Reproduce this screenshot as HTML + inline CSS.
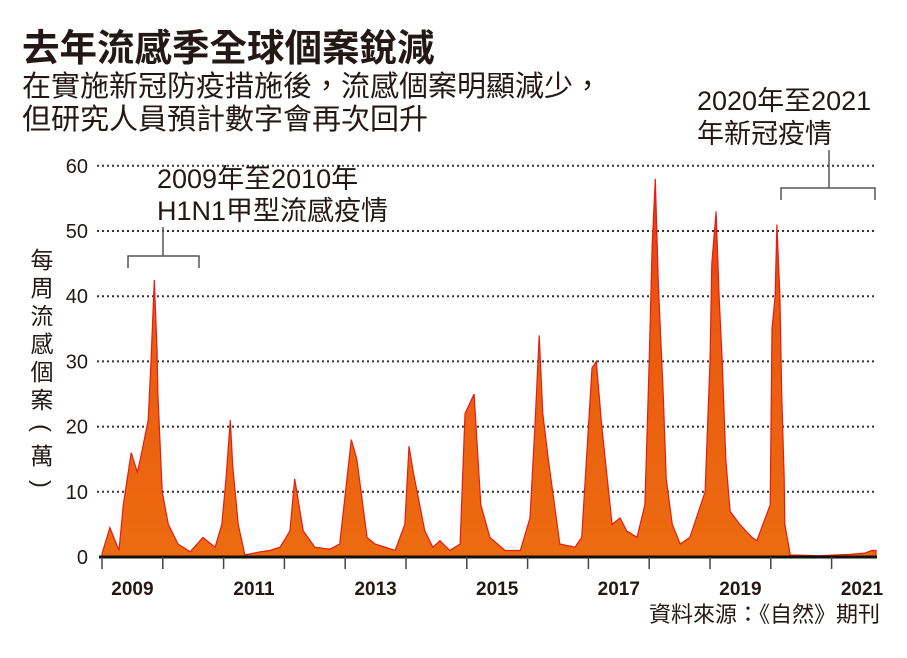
<!DOCTYPE html>
<html><head><meta charset="utf-8"><style>
body{margin:0;background:#fff;}
svg text{font-family:"Liberation Sans","Noto Sans CJK TC",sans-serif;}
</style></head><body>
<svg width="907" height="653" viewBox="0 0 907 653" xmlns="http://www.w3.org/2000/svg">
<defs>
<linearGradient id="fillg" x1="0" y1="0" x2="0" y2="1">
<stop offset="0" stop-color="#e8300f"/><stop offset="0.35" stop-color="#ea5a10"/><stop offset="1" stop-color="#ec6b10"/>
</linearGradient>
</defs>
<text x="22" y="61" font-size="37.5" font-weight="bold" fill="#231815">去年流感季全球個案銳減</text>
<text x="22" y="96" font-size="29" fill="#231815">在實施新冠防疫措施後，流感個案明顯減少，</text>
<text x="22" y="129" font-size="29" fill="#231815">但研究人員預計數字會再次回升</text>
<g id="grid"></g>
<g id="yticks"></g>
<path id="area" fill="url(#fillg)" stroke="#e51d12" stroke-width="1.2"/>
<g id="xaxis"></g>
<g font-size="23" fill="#231815" text-anchor="middle">
<text x="42" y="268">每</text><text x="42" y="296">周</text><text x="42" y="324">流</text><text x="42" y="352">感</text><text x="42" y="380">個</text><text x="42" y="408">案</text><text x="42" y="436" transform="rotate(90 42 428)">(</text><text x="42" y="464">萬</text><text x="42" y="492" transform="rotate(90 42 484)">)</text>
</g>
<g>
<text x="157" y="188" font-size="27" fill="#231815">2009年至2010年</text>
<text x="157" y="220" font-size="27" fill="#231815">H1N1甲型流感疫情</text>
<path d="M163 227 V256 M128 268 V256 H199 V268" fill="none" stroke="#555" stroke-width="1.5"/>
</g>
<g>
<text x="697" y="110" font-size="27" fill="#231815">2020年至2021</text>
<text x="697" y="143" font-size="27" fill="#231815">年新冠疫情</text>
<path d="M829 150 V188 M781 200 V188 H875 V200" fill="none" stroke="#555" stroke-width="1.5"/>
</g>
<text x="880" y="622" font-size="22" fill="#231815" text-anchor="end">資料來源：《自然》期刊</text>
</svg>
<script>
const yTicks=[0,10,20,30,40,50,60];
const yearTicks=[2009,2010,2011,2012,2013,2014,2015,2016,2017,2018,2019,2020,2021];
const yearLabels=["2009","2011","2013","2015","2017","2019","2021"];
const dates=[2009.00,2009.13,2009.28,2009.35,2009.48,2009.58,2009.63,2009.76,2009.806,2009.86,2009.905,2009.92,2009.99,
2010.09,2010.25,2010.45,2010.66,2010.86,2010.97,2011.04,2011.11,2011.15,2011.24,2011.35,2011.60,2011.76,2011.93,
2012.09,2012.17,2012.31,2012.50,2012.75,2012.91,2013.10,2013.19,2013.36,2013.49,2013.82,2013.98,
2014.05,2014.12,2014.31,2014.44,2014.56,2014.72,2014.89,2014.97,2015.12,2015.23,2015.38,2015.63,2015.88,
2016.04,2016.12,2016.19,2016.25,2016.34,2016.53,2016.78,2016.89,2017.06,2017.13,2017.22,2017.39,2017.52,2017.63,2017.80,2017.93,
2018.00,2018.05,2018.10,2018.15,2018.23,2018.28,2018.38,2018.51,2018.67,2018.92,
2019.00,2019.03,2019.10,2019.15,2019.20,2019.26,2019.33,2019.49,2019.69,2019.77,2019.99,
2020.02,2020.07,2020.10,2020.15,2020.18,2020.22,2020.23,2020.32,2020.81,2021.30,2021.55,2021.66,2021.73];
const cases=[0.5,4.5,1,8,16,13,15,21,30,42.5,32,25,10,
5,2,0.8,3,1.5,5,12,21,14,5,0.3,0.8,1,1.5,
4,12,4,1.5,1.2,2,18,15,3,2,1,5,
17,13,4,1.5,2.5,1,2,22,25,8,3,1,1,
6,20,34,22,15,2,1.5,3,29,30,20,5,6,4,3,8,
30,48,58,42,25,12,5,2,3,10,
30,45,53,40,30,15,7,5,3,2.5,8,
35,40,51,40,25,12,5,0.3,0.2,0.4,0.6,1,1];
const X0=102,PX_PER_YEAR=60.8,Y0=557,PX_PER_UNIT=6.52;
const xs=d=>X0+(d-2009)*PX_PER_YEAR;
const ys=v=>Y0-v*PX_PER_UNIT;
const NS="http://www.w3.org/2000/svg";
const grid=document.getElementById('grid'),yt=document.getElementById('yticks'),xa=document.getElementById('xaxis');
yTicks.forEach(t=>{
 if(t>0){const l=document.createElementNS(NS,'line');
 
 
 l.setAttribute('x1',97);l.setAttribute('x2',876);l.setAttribute('y1',ys(t));l.setAttribute('y2',ys(t));
 l.setAttribute('stroke','#333');l.setAttribute('stroke-width','2');l.setAttribute('stroke-dasharray','2 3');grid.appendChild(l);}
 const tx=document.createElementNS(NS,'text');
 
 
 tx.setAttribute('x',88);tx.setAttribute('y',ys(t)+7);tx.setAttribute('text-anchor','end');tx.setAttribute('font-size','20');tx.setAttribute('fill','#231815');
 tx.textContent=t;yt.appendChild(tx);
});
let d='M'+xs(dates[0])+' '+Y0;
dates.forEach((dt,i)=>{d+=' L'+xs(dt).toFixed(1)+' '+ys(cases[i]).toFixed(1);});
d+=' L'+xs(dates[dates.length-1]).toFixed(1)+' '+Y0+' Z';
document.getElementById('area').setAttribute('d',d);
const base=document.createElementNS(NS,'line');


base.setAttribute('x1',99);base.setAttribute('x2',877);base.setAttribute('y1',Y0);base.setAttribute('y2',Y0);base.setAttribute('stroke','#111');base.setAttribute('stroke-width','3');xa.appendChild(base);
yearTicks.forEach(y=>{
 const t=document.createElementNS(NS,'line');
 
 
 t.setAttribute('x1',xs(y));t.setAttribute('x2',xs(y));t.setAttribute('y1',Y0);t.setAttribute('y2',Y0+12);t.setAttribute('stroke','#444');t.setAttribute('stroke-width','1.5');xa.appendChild(t);
});
yearLabels.forEach(s=>{
 const t=document.createElementNS(NS,'text');
 
 
 t.setAttribute('x',xs(+s+0.5));t.setAttribute('y',595);t.setAttribute('text-anchor','middle');t.setAttribute('font-size','19');t.setAttribute('font-weight','bold');t.setAttribute('fill','#231815');
 t.textContent=s;xa.appendChild(t);
});
</script>
</body></html>
